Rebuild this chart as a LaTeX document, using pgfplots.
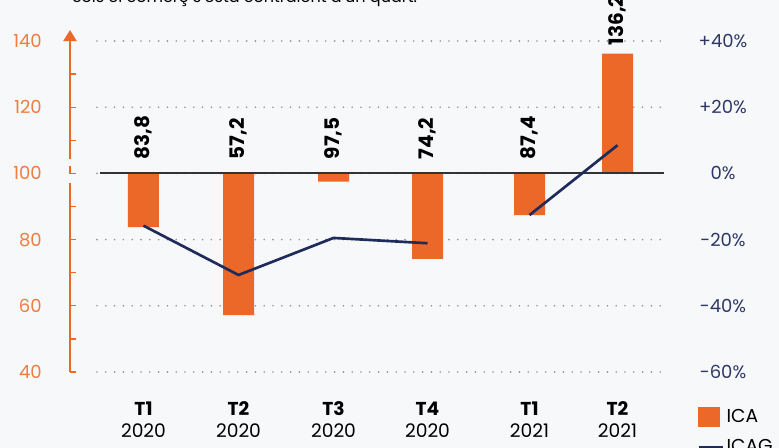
\documentclass[border=0pt]{standalone}
\usepackage{pgfplots}
\pgfplotsset{compat=1.18}
\usepackage{fontspec}
\setmainfont{Poppins}
\usetikzlibrary{arrows.meta}
\definecolor{bg}{RGB}{247,248,250}
\definecolor{ica}{RGB}{236,104,40}
\definecolor{icalab}{RGB}{240,124,64}
\definecolor{navy}{RGB}{31,43,91}
\definecolor{navylab}{RGB}{45,56,102}
\definecolor{gridc}{RGB}{150,150,150}
\begin{document}
\begin{tikzpicture}
\useasboundingbox (0,0) rectangle (584.25pt,336pt);
\fill[bg] (0,0) rectangle (584.25pt,336pt);
\node[anchor=base west, inner sep=0pt, font=\fontsize{12}{14}\selectfont] at (54pt,334pt) {Sols el comerç s'està contraient d'un quart.};
\begin{axis}[
  at={(72.75pt,57pt)}, anchor=south west,
  scale only axis, width=426pt, height=248.25pt,
  xmin=97, xmax=665, ymin=40, ymax=140,
  y coord trafo/.code={\pgfmathparse{#1-100}},
  y coord inv trafo/.code={\pgfmathparse{#1+100}},
  axis line style={draw=none},
  major tick length=0pt,
  xtick={143.5,238.5,333.5,427.5,529.5,617.5},
  xticklabels={{\textbf{T1}\\2020},{\textbf{T2}\\2020},{\textbf{T3}\\2020},{\textbf{T4}\\2020},{\textbf{T1}\\2021},{\textbf{T2}\\2021}},
  xticklabel style={align=center, anchor=north, inner sep=0pt, yshift=-22pt, font=\fontsize{14}{16.5}\selectfont, text=black},
  ytick={40,60,80,100,120,140},
  yticklabels={40,60,80,100,120,140},
  yticklabel style={anchor=east, inner sep=0pt, xshift=-41.25pt, font=\fontsize{13.5}{16}\selectfont, text=icalab},
  ymajorgrids,
  grid style={gridc, line width=1.4pt, line cap=round, dash pattern=on 0pt off 6.6pt},
  clip=false,
  ybar, bar width=23.25pt, bar shift=0pt,
]
\addplot[fill=ica, draw=none] coordinates {(143.5,83.8) (238.5,57.2) (333.5,97.5) (427.5,74.2) (529.5,87.4) (617.5,136.2)};
\draw[line width=1.5pt, color=black!80] (axis cs:100,100) -- (axis cs:664,100);
% left axis
\draw[ica, line width=1pt] (axis cs:70,40) -- (axis cs:70,97);
\draw[ica, line width=1pt] (axis cs:70,102.2) -- (axis cs:70,100) -- (axis cs:76,100);
\draw[ica, line width=1pt, -{Triangle[width=10pt, length=8.25pt]}] (axis cs:70,104.2) -- (axis cs:70,143.3);
\pgfplotsinvokeforeach{40,50,60,70,80,90,110,120,130}{\draw[ica, line width=1pt] (axis cs:70,#1) -- (axis cs:76,#1);}
% value labels
\begin{scope}[every node/.style={rotate=90, anchor=west, inner sep=0pt, font=\bfseries\fontsize{15}{18}\selectfont}]
\node at ([yshift=10.5pt]axis cs:143.5,100) {83,8};
\node at ([yshift=10.5pt]axis cs:238.5,100) {57,2};
\node at ([yshift=10.5pt]axis cs:333.5,100) {97,5};
\node at ([yshift=10.5pt]axis cs:427.5,100) {74,2};
\node at ([yshift=10.5pt]axis cs:529.5,100) {87,4};
\node at ([yshift=6pt]axis cs:617.5,136.2) {136,2};
\end{scope}
\end{axis}
\begin{axis}[
  at={(72.75pt,57pt)}, anchor=south west,
  scale only axis, width=426pt, height=248.25pt,
  xmin=97, xmax=665, ymin=-60, ymax=40,
  axis line style={draw=none},
  major tick length=0pt,
  xtick=\empty,
  axis y line*=right,
  ytick={-60,-40,-20,0,20,40},
  yticklabels={-60\%,-40\%,-20\%,0\%,+20\%,+40\%},
  yticklabel style={anchor=center, inner sep=0pt, xshift=43.5pt, font=\fontsize{13.5}{16}\selectfont, text=navylab},
  clip=false,
  unbounded coords=jump,
  legend style={at={(1.0563,-0.1027)}, anchor=north west, draw=none, fill=none, inner sep=0pt, row sep=7.5pt,
    font=\fontsize{14}{16}\selectfont, nodes={inner sep=2pt}},
  legend cell align=left,
]
\addlegendimage{legend image code/.code={\fill[ica] (0pt,-7.1pt) rectangle (15.75pt,7.1pt);}}
\addplot[navy, line width=2pt, legend image code/.code={\draw[navy, line width=2pt] (0pt,0pt) -- (18pt,0pt);}] coordinates {(143.5,-15.8) (238.5,-30.7) (333.5,-19.5) (427.5,-21.1) (480,nan) (529.5,-12.6) (617.5,8.5)};
\legend{ICA, ICAG}
\end{axis}
\end{tikzpicture}
\end{document}
